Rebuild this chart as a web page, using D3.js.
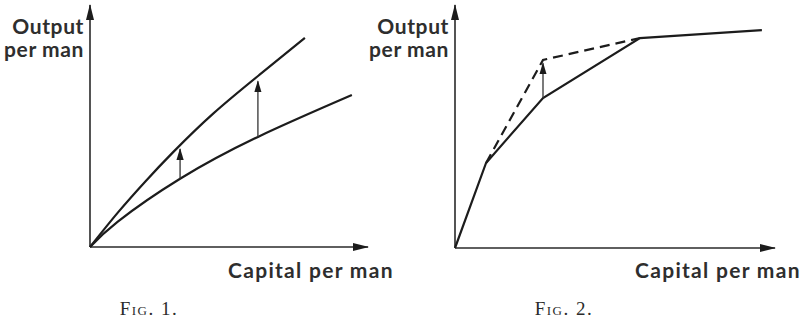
<!DOCTYPE html>
<meta charset="utf-8">
<style>
body { margin: 0; background: #fff; }
svg { display: block; }
.curve { fill: none; stroke: #1c1c1c; stroke-width: 2.2; }
.axis-line { stroke: #2a2a2a; stroke-width: 1.6; }
.shift { stroke: #333; stroke-width: 1.3; }
.dashed { stroke-dasharray: 10 6; }
.label { font-family: Lato, "Open Sans", sans-serif; font-weight: bold; fill: #2e2e2e; font-size: 21px; letter-spacing: 0.6px; }
.xlabel { letter-spacing: 1.3px; }
.fig { font-family: "Liberation Serif", serif; fill: #2b2b2b; font-variant: small-caps; font-size: 19px; letter-spacing: 1.5px; }
</style>
<svg width="800" height="320"></svg>
<script src="https://d3js.org/d3.v7.min.js"></script>
<script>
// Fig. 1 - two smooth production curves, shift upwards
var fig1Lower = [[0,0],[1.0,1.05],[3.24,2.82],[6.04,4.55],[9.42,6.28]];
var fig1Upper = [[0,0],[1.0,1.42],[2.0,2.72],[3.0,3.93],[4.42,5.5],[6.08,7.1],[7.73,8.64]];
var fig1Shifts = [{x:3.24, from:2.82, to:4.05}, {x:6.04, from:4.55, to:6.85}];

// Fig. 2 - kinked line, dashed improvement
var fig2Solid  = [[0,0],[0.97,3.50],[2.75,6.17],[5.78,8.64],[9.59,8.97]];
var fig2Dashed = [[0.97,3.50],[2.75,7.74],[5.78,8.64]];
var fig2Shifts = [{x:2.75, from:6.17, to:7.6}];

var yLabel = ["Output", "per man"];
var xLabel = "Capital per man";
var figLabels = ["Fig. 1.", "Fig. 2."];

var svg = d3.select("svg");

var defs = svg.append("defs");
defs.append("marker")
    .attr("id", "axhead")
    .attr("markerUnits", "userSpaceOnUse")
    .attr("viewBox", "0 -5 16 10")
    .attr("refX", 15).attr("refY", 0)
    .attr("markerWidth", 16).attr("markerHeight", 10)
    .attr("orient", "auto")
  .append("path").attr("d", "M0,-4L16,0L0,4Z").attr("fill", "#1c1c1c");
defs.append("marker")
    .attr("id", "smallhead")
    .attr("markerUnits", "userSpaceOnUse")
    .attr("viewBox", "0 -5 12 10")
    .attr("refX", 11).attr("refY", 0)
    .attr("markerWidth", 12).attr("markerHeight", 10)
    .attr("orient", "auto")
  .append("path").attr("d", "M0,-3.6L12,0L0,3.6Z").attr("fill", "#1c1c1c");

function panel(opt) {
    var x = d3.scaleLinear().domain([0, 10]).range([opt.x0, opt.x1]);
    var y = d3.scaleLinear().domain([0, 10]).range([opt.y0, opt.y1]);
    var g = svg.append("g");
    var line = d3.line().x(function(d){ return x(d[0]); }).y(function(d){ return y(d[1]); });

    // axes
    g.append("line").attr("class", "axis-line")
        .attr("x1", x(0)).attr("y1", y(0)).attr("x2", x(10)).attr("y2", y(0))
        .attr("marker-end", "url(#axhead)");
    g.append("line").attr("class", "axis-line")
        .attr("x1", x(0)).attr("y1", y(0)).attr("x2", x(0)).attr("y2", y(10))
        .attr("marker-end", "url(#axhead)");

    opt.curves.forEach(function(c) {
        g.append("path").datum(c.data)
            .attr("class", "curve" + (c.dashed ? " dashed" : ""))
            .attr("d", line.curve(c.smooth ? d3.curveNatural : d3.curveLinear));
    });

    g.selectAll(".shift").data(opt.shifts).enter().append("line")
        .attr("class", "shift")
        .attr("x1", function(d){ return x(d.x); })
        .attr("x2", function(d){ return x(d.x); })
        .attr("y1", function(d){ return y(d.from); })
        .attr("y2", function(d){ return y(d.to); })
        .attr("marker-end", "url(#smallhead)");

    var yl = g.append("text").attr("class", "label").attr("text-anchor", "end");
    yLabel.forEach(function(t, i) {
        yl.append("tspan").attr("x", x(0) - 6).attr("y", 34 + i * 23).text(t);
    });
    g.append("text").attr("class", "label xlabel")
        .attr("x", x(10) - 140).attr("y", 278)
        .text(xLabel);
    g.append("text").attr("class", "fig")
        .attr("x", opt.figX).attr("y", 315)
        .attr("text-anchor", "middle")
        .text(opt.fig);
}

panel({x0: 90, x1: 368, y0: 247, y1: 5, figX: 149, fig: figLabels[0],
       curves: [{data: fig1Lower, smooth: true}, {data: fig1Upper, smooth: true}],
       shifts: fig1Shifts});
panel({x0: 455, x1: 775, y0: 248, y1: 5, figX: 564, fig: figLabels[1],
       curves: [{data: fig2Solid}, {data: fig2Dashed, dashed: true}],
       shifts: fig2Shifts});
</script>
